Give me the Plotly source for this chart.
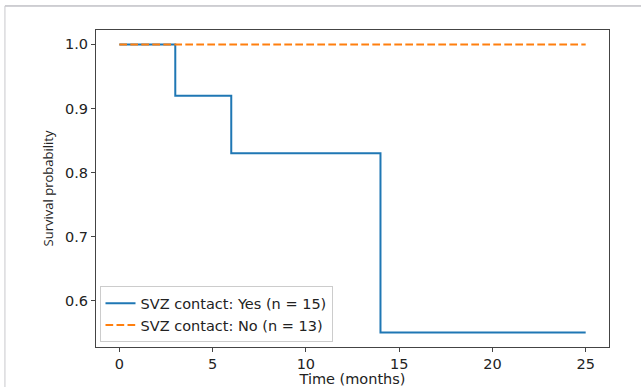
import plotly.graph_objects as go

# Data
yes_times = [0, 3, 6, 14, 25]
yes_surv = [1.0, 0.92, 0.83, 0.55, 0.55]
no_times = [0, 25]
no_surv = [1.0, 1.0]
x_ticks = [0, 5, 10, 15, 20, 25]
y_ticks = [0.6, 0.7, 0.8, 0.9, 1.0]
labels = ["SVZ contact: Yes (n = 15)", "SVZ contact: No (n = 13)"]

W, H = 641, 387
L, R, T, B = 96, 32.3, 30, 40.3
pw, ph = W - L - R, H - T - B

def px_x(p):
    return (p - L) / pw

def px_y(p):
    return (H - B - p) / ph

fig = go.Figure()
fig.add_trace(go.Scatter(x=yes_times, y=yes_surv, mode="lines", line_shape="hv",
                         line=dict(color="#1f77b4", width=2), name=labels[0]))
fig.add_trace(go.Scatter(x=no_times, y=no_surv, mode="lines", line_shape="hv",
                         line=dict(color="#ff7f0e", width=2, dash="7.7px,3.3px"), name=labels[1]))

axis_common = dict(showgrid=False, zeroline=False, showline=True, linecolor="#444",
                   linewidth=1, mirror=True, ticks="outside", ticklen=4, tickcolor="#444",
                   automargin=False,
                   tickfont=dict(family="DejaVu Sans", size=14.5, color="#222"))

fig.update_xaxes(range=[-1.25, 26.25], tickvals=x_ticks,
                 title=dict(text="Time (months)", font=dict(family="DejaVu Sans", size=14.5, color="#222"), standoff=0),
                 **axis_common)
fig.update_yaxes(range=[0.5275, 1.0225], tickvals=y_ticks, tickformat=".1f",
                 title=dict(text="Survival probability", font=dict(family="Open Sans", size=13, color="#222"), standoff=8),
                 **axis_common)

fig.update_layout(
    width=W, height=H,
    margin=dict(l=L, r=R, t=T, b=B, pad=0, autoexpand=False),
    plot_bgcolor="white", paper_bgcolor="white",
    showlegend=True,
    legend=dict(x=px_x(99.5), y=px_y(342), xanchor="left", yanchor="bottom",
                bgcolor="rgba(255,255,255,0.8)", bordercolor="#cccccc", borderwidth=1,
                font=dict(family="DejaVu Sans", size=14.5, color="#222"),
                tracegroupgap=0, itemwidth=30),
    shapes=[
        dict(type="line", xref="paper", yref="paper", x0=px_x(5), x1=px_x(645), y0=px_y(6), y1=px_y(6),
             line=dict(color="#a0a0a8", width=1)),
        dict(type="line", xref="paper", yref="paper", x0=px_x(5), x1=px_x(5), y0=px_y(6), y1=px_y(392),
             line=dict(color="#c8c8cc", width=1)),
    ],
)

fig.write_html("out.html", config={"displayModeBar": False},
               post_script="document.body.style.margin='0';document.body.style.overflow='hidden';")
